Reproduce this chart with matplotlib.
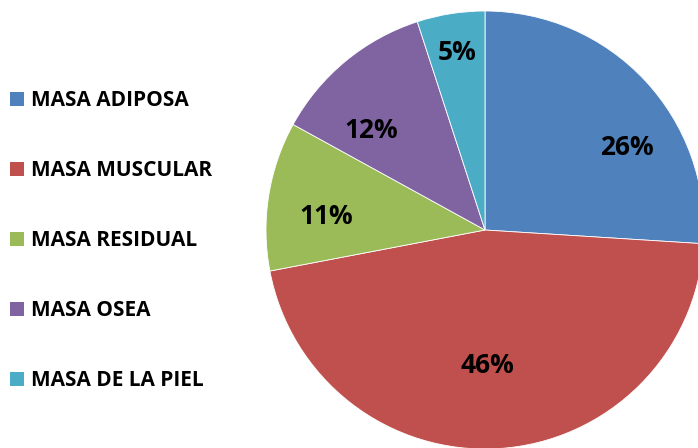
import matplotlib.pyplot as plt
from matplotlib.patches import Patch
import numpy as np

labels = ['MASA ADIPOSA', 'MASA MUSCULAR', 'MASA RESIDUAL', 'MASA OSEA', 'MASA DE LA PIEL']
values = [26, 46, 11, 12, 5]
colors = ['#4F81BD', '#C0504D', '#9BBB59', '#8064A2', '#4BACC6']
# label placement (distance from centre as fraction of radius, angle in degrees)
label_pos = [(0.75, 30), (0.62, -89), (0.73, 175), (0.69, 139), (0.82, 99)]

plt.rcParams['font.family'] = ['Open Sans', 'DejaVu Sans']

fig = plt.figure(figsize=(6.98, 4.48), dpi=100)
ax = fig.add_axes([266 / 698, -1 / 448, 438 / 698, 438 / 448])

wedges, _ = ax.pie(values, colors=colors, startangle=90, counterclock=False,
                   radius=1, wedgeprops=dict(edgecolor='white', linewidth=0.6))
ax.set_xlim(-1, 1)
ax.set_ylim(-1, 1)
ax.set_aspect('equal')
ax.axis('off')

for v, (r, ang) in zip(values, label_pos):
    a = np.deg2rad(ang)
    ax.text(r * np.cos(a), r * np.sin(a), f'{v}%', ha='center', va='center',
            fontsize=19, fontweight='bold', color='black')

handles = [Patch(facecolor=c, edgecolor='none') for c in colors]
fig.legend(handles, labels, loc='center left', bbox_to_anchor=(10 / 698, 0.463),
           frameon=False, prop=dict(size=15, weight='bold'),
           handlelength=0.68, handleheight=0.68, handletextpad=0.33,
           labelspacing=2.35, borderpad=0, borderaxespad=0)

fig.savefig('out.png', dpi=100)
